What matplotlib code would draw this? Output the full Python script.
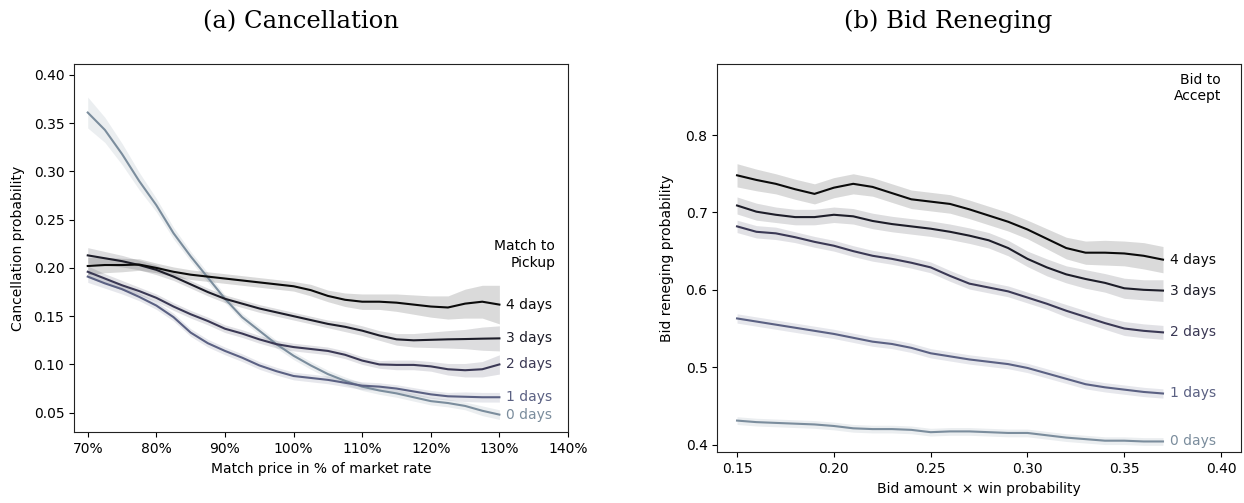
import matplotlib
matplotlib.use("Agg")
import matplotlib.pyplot as plt
import numpy as np
from matplotlib.ticker import FuncFormatter

# ---- (a) cancellation: match price in % of market rate ----
price = [70, 72.5, 75, 77.5, 80, 82.5, 85, 87.5, 90, 92.5, 95, 97.5, 100,
         102.5, 105, 107.5, 110, 112.5, 115, 117.5, 120, 122.5, 125, 127.5, 130]

cancel_0 = [0.361, 0.343, 0.318, 0.290, 0.265, 0.236, 0.212, 0.190, 0.168, 0.149, 0.135, 0.121, 0.109,
            0.099, 0.090, 0.083, 0.077, 0.073, 0.070, 0.066, 0.062, 0.060, 0.057, 0.052, 0.048]
cancel_1 = [0.191, 0.184, 0.178, 0.170, 0.161, 0.149, 0.133, 0.122, 0.114, 0.107, 0.099, 0.093, 0.088,
            0.086, 0.084, 0.081, 0.078, 0.077, 0.075, 0.072, 0.069, 0.067, 0.0665, 0.066, 0.066]
cancel_2 = [0.196, 0.189, 0.182, 0.176, 0.169, 0.160, 0.152, 0.145, 0.137, 0.132, 0.126, 0.121, 0.118,
            0.116, 0.114, 0.110, 0.104, 0.100, 0.0995, 0.0995, 0.098, 0.095, 0.094, 0.095, 0.100]
cancel_3 = [0.213, 0.210, 0.207, 0.203, 0.198, 0.191, 0.183, 0.175, 0.168, 0.163, 0.158, 0.154, 0.150,
            0.146, 0.142, 0.139, 0.135, 0.130, 0.126, 0.125, 0.1255, 0.126, 0.1263, 0.1267, 0.127]
cancel_4 = [0.202, 0.203, 0.203, 0.2035, 0.200, 0.196, 0.193, 0.191, 0.189, 0.187, 0.185, 0.183, 0.181,
            0.177, 0.171, 0.167, 0.165, 0.165, 0.164, 0.162, 0.160, 0.159, 0.163, 0.165, 0.162]

# half width of the confidence bands
cancel_err_0 = [0.016, 0.013, 0.011, 0.009, 0.007, 0.006, 0.005, 0.005, 0.004, 0.004, 0.004, 0.004, 0.004,
                0.004, 0.004, 0.004, 0.004, 0.004, 0.004, 0.004, 0.004, 0.004, 0.004, 0.005, 0.005]
cancel_err_1 = [0.006, 0.005, 0.005, 0.004, 0.004, 0.004, 0.004, 0.004, 0.004, 0.004, 0.004, 0.004, 0.004,
                0.004, 0.004, 0.004, 0.004, 0.004, 0.004, 0.004, 0.004, 0.004, 0.005, 0.005, 0.005]
cancel_err_2 = [0.006, 0.005, 0.005, 0.004, 0.004, 0.004, 0.004, 0.004, 0.004, 0.004, 0.004, 0.004, 0.004,
                0.004, 0.004, 0.004, 0.004, 0.004, 0.005, 0.005, 0.005, 0.006, 0.007, 0.008, 0.010]
cancel_err_3 = [0.008, 0.007, 0.006, 0.005, 0.005, 0.004, 0.004, 0.004, 0.004, 0.004, 0.004, 0.004, 0.004,
                0.004, 0.004, 0.005, 0.005, 0.005, 0.006, 0.007, 0.008, 0.009, 0.010, 0.012, 0.013]
cancel_err_4 = [0.009, 0.008, 0.007, 0.006, 0.005, 0.005, 0.005, 0.005, 0.005, 0.005, 0.005, 0.005, 0.005,
                0.006, 0.006, 0.007, 0.008, 0.008, 0.009, 0.010, 0.011, 0.012, 0.015, 0.017, 0.020]

# ---- (b) bid reneging: bid amount x win probability ----
bid = [0.15, 0.16, 0.17, 0.18, 0.19, 0.20, 0.21, 0.22, 0.23, 0.24, 0.25, 0.26,
       0.27, 0.28, 0.29, 0.30, 0.31, 0.32, 0.33, 0.34, 0.35, 0.36, 0.37]

renege_0 = [0.431, 0.429, 0.428, 0.427, 0.426, 0.424, 0.421, 0.420, 0.420, 0.419, 0.416, 0.417,
            0.417, 0.416, 0.415, 0.415, 0.412, 0.409, 0.407, 0.405, 0.405, 0.404, 0.404]
renege_1 = [0.563, 0.559, 0.555, 0.551, 0.547, 0.543, 0.538, 0.533, 0.530, 0.525, 0.518, 0.514,
            0.510, 0.507, 0.504, 0.499, 0.492, 0.485, 0.478, 0.474, 0.471, 0.468, 0.466]
renege_2 = [0.682, 0.675, 0.673, 0.668, 0.662, 0.657, 0.650, 0.644, 0.640, 0.635, 0.629, 0.618,
            0.608, 0.603, 0.598, 0.590, 0.582, 0.573, 0.565, 0.557, 0.550, 0.547, 0.545]
renege_3 = [0.709, 0.701, 0.697, 0.694, 0.694, 0.697, 0.695, 0.689, 0.685, 0.682, 0.679, 0.675,
            0.670, 0.664, 0.654, 0.640, 0.629, 0.620, 0.614, 0.609, 0.602, 0.600, 0.599]
renege_4 = [0.748, 0.742, 0.737, 0.730, 0.724, 0.732, 0.737, 0.733, 0.725, 0.717, 0.714, 0.711,
            0.704, 0.696, 0.688, 0.678, 0.666, 0.654, 0.648, 0.648, 0.647, 0.644, 0.639]

renege_err = {
    0: [0.005] * 23,
    1: [0.006] * 23,
    2: [0.008, 0.008, 0.008, 0.007, 0.007, 0.007, 0.007, 0.007, 0.007, 0.007, 0.007, 0.007,
        0.007, 0.007, 0.007, 0.007, 0.007, 0.008, 0.008, 0.008, 0.009, 0.009, 0.009],
    3: [0.011, 0.011, 0.010, 0.010, 0.010, 0.010, 0.010, 0.010, 0.010, 0.010, 0.010, 0.010,
        0.010, 0.010, 0.010, 0.010, 0.011, 0.011, 0.012, 0.012, 0.013, 0.013, 0.014],
    4: [0.015, 0.014, 0.013, 0.013, 0.013, 0.013, 0.013, 0.012, 0.012, 0.012, 0.012, 0.012,
        0.012, 0.012, 0.012, 0.012, 0.013, 0.014, 0.015, 0.016, 0.016, 0.017, 0.017],
}

day_labels = ["0 days", "1 days", "2 days", "3 days", "4 days"]
colors = ["#7b8d9d", "#5b6183", "#3b3955", "#1d1d29", "#0b0b0b"]

cancel = [cancel_0, cancel_1, cancel_2, cancel_3, cancel_4]
cancel_err = [cancel_err_0, cancel_err_1, cancel_err_2, cancel_err_3, cancel_err_4]
renege = [renege_0, renege_1, renege_2, renege_3, renege_4]

fig = plt.figure(figsize=(12.44, 5.03), dpi=100)
ax1 = fig.add_axes([0.0595, 0.1406, 0.3971, 0.7316])
ax2 = fig.add_axes([0.5766, 0.1008, 0.4210, 0.7714])


def draw(ax, x, ys, errs):
    for i, (y, e) in enumerate(zip(ys, errs)):
        y = np.array(y)
        e = np.array(e)
        ax.fill_between(x, y - e, y + e, color=colors[i], alpha=0.15, lw=0)
        ax.plot(x, y, color=colors[i], lw=1.5)
        ax.annotate(day_labels[i], (x[-1], y[-1]), xytext=(5, 0),
                    textcoords="offset points", va="center", ha="left",
                    color=colors[i], fontsize=10)


draw(ax1, price, cancel, cancel_err)
draw(ax2, bid, renege, [renege_err[k] for k in range(5)])

ax1.set_xlim(68, 140)
ax1.set_ylim(0.0297, 0.411)
ax1.set_xticks([70, 80, 90, 100, 110, 120, 130, 140])
ax1.xaxis.set_major_formatter(FuncFormatter(lambda v, p: f"{v:.0f}%"))
ax1.set_yticks([0.05, 0.10, 0.15, 0.20, 0.25, 0.30, 0.35, 0.40])
ax1.yaxis.set_major_formatter(FuncFormatter(lambda v, p: f"{v:.2f}"))
ax1.set_xlabel("Match price in % of market rate", fontsize=10)
ax1.set_ylabel("Cancellation probability", fontsize=10)
ax1.yaxis.set_label_coords(-0.099, 0.5)
ax1.text(0.974, 0.483, "Match to\nPickup", transform=ax1.transAxes,
         ha="right", va="center", fontsize=10)

ax2.set_xlim(0.1398, 0.4103)
ax2.set_ylim(0.390, 0.8915)
ax2.set_xticks([0.15, 0.20, 0.25, 0.30, 0.35, 0.40])
ax2.xaxis.set_major_formatter(FuncFormatter(lambda v, p: f"{v:.2f}"))
ax2.set_yticks([0.4, 0.5, 0.6, 0.7, 0.8])
ax2.yaxis.set_major_formatter(FuncFormatter(lambda v, p: f"{v:.1f}"))
ax2.set_xlabel("Bid amount \u00d7 win probability", fontsize=10)
ax2.set_ylabel("Bid reneging probability", fontsize=10)
ax2.yaxis.set_label_coords(-0.083, 0.5)
ax2.text(0.962, 0.939, "Bid to\nAccept", transform=ax2.transAxes,
         ha="right", va="center", fontsize=10)

for ax in (ax1, ax2):
    ax.tick_params(labelsize=10)
    for s in ax.spines.values():
        s.set_color("#222222")

fig.text(301 / 1244, 1 - 28 / 503, "(a) Cancellation", family="DejaVu Serif",
         fontsize=17.5, ha="center", va="baseline")
fig.text(948 / 1244, 1 - 28 / 503, "(b) Bid Reneging", family="DejaVu Serif",
         fontsize=17.5, ha="center", va="baseline")

fig.savefig("out.png", dpi=100)
